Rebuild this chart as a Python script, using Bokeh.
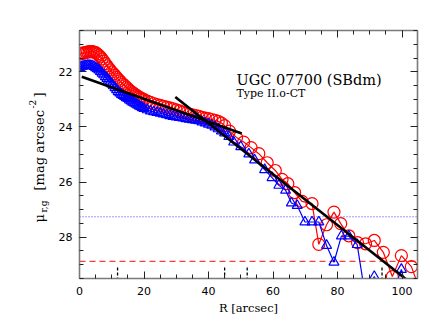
import math
from bokeh.plotting import figure
from bokeh.models import Range1d, LinearAxis, FixedTicker, Label
from bokeh.embed import file_html
from bokeh.resources import INLINE

# ---------------- data ----------------
red_r = [0, 0.5, 1, 1.5, 2, 2.5, 3, 3.5, 4, 4.5, 5, 5.5, 6, 6.5, 7, 7.5, 8, 8.5, 9, 9.5,
         10, 10.5, 11, 11.5, 12, 12.5, 13, 13.5, 14, 14.5, 15, 15.5, 16, 16.5, 17, 17.5, 18, 18.5, 19, 19.5,
         20, 21, 22, 23, 24, 25, 26, 27, 28, 29, 30, 31, 32, 33, 34, 35, 36, 37, 38, 39, 40, 41, 42, 43, 44, 45,
         46.5, 48.7, 50.9, 53.2, 55.6, 58.2, 60.7, 62.8, 64.6, 66.7, 69.0, 72.1, 74.2, 76.6, 78.9, 81.0,
         83.5, 86.2, 88.7, 91.4, 94.2, 97.0, 99.8, 102.9, 105.8]
red_mu = [21.35, 21.34, 21.32, 21.31, 21.29, 21.28, 21.27, 21.27, 21.27, 21.28, 21.30, 21.35, 21.40, 21.46,
          21.53, 21.61, 21.70, 21.78, 21.86, 21.93, 22.00, 22.07, 22.13, 22.20, 22.27, 22.33, 22.39, 22.45,
          22.50, 22.56, 22.61, 22.67, 22.72, 22.76, 22.80, 22.84, 22.88, 22.92, 22.95, 22.98,
          23.01, 23.06, 23.11, 23.15, 23.19, 23.22, 23.25, 23.28, 23.31, 23.34, 23.38, 23.42, 23.46, 23.50,
          23.53, 23.56, 23.59, 23.62, 23.65, 23.68, 23.70, 23.73, 23.76, 23.80, 23.86, 23.95,
          24.15, 24.38, 24.55, 24.75, 24.97, 25.30, 25.58, 25.90, 26.06, 26.38, 26.70, 26.78, 28.26, 27.55,
          27.09, 27.51, 27.95, 28.20, 28.24, 28.12, 28.55, 29.43, 28.67, 29.07, 30.00]

blue_r = [0, 0.5, 1, 1.5, 2, 2.5, 3, 3.5, 4, 4.5, 5, 5.5, 6, 6.5, 7, 7.5, 8, 8.5, 9, 9.5,
          10, 10.5, 11, 11.5, 12, 12.5, 13, 13.5, 14, 14.5, 15, 15.5, 16, 16.5, 17, 17.5, 18, 18.5, 19, 19.5,
          20, 21, 22, 23, 24, 25, 26, 27, 28, 29, 30, 31, 32, 33, 34, 35, 36, 37, 38, 39, 40, 41, 42, 43, 44, 45,
          46.3, 47.8, 50.0, 52.5, 54.3, 57.4, 59.7, 61.8, 63.9, 65.7, 67.5, 69.9, 72.1, 74.2, 76.6, 78.9,
          81.2, 83.5, 86.1, 88.7, 91.4, 94.2, 97.0, 99.8, 102.6]
blue_mu = [21.85, 21.82, 21.80, 21.78, 21.77, 21.76, 21.76, 21.77, 21.78, 21.81, 21.85, 21.89, 21.93, 21.99,
           22.05, 22.11, 22.18, 22.24, 22.30, 22.37, 22.44, 22.51, 22.58, 22.65, 22.72, 22.77, 22.82, 22.86,
           22.90, 22.94, 22.97, 23.02, 23.06, 23.10, 23.13, 23.17, 23.20, 23.24, 23.27, 23.30,
           23.33, 23.38, 23.42, 23.45, 23.48, 23.50, 23.53, 23.56, 23.59, 23.62, 23.64, 23.66, 23.68, 23.70,
           23.72, 23.74, 23.76, 23.78, 23.82, 23.86, 23.90, 23.94, 24.00, 24.07, 24.15, 24.22,
           24.35, 24.55, 24.72, 24.98, 25.20, 25.55, 25.84, 26.12, 26.30, 26.76, 26.85, 27.45, 27.45, 27.45,
           28.30, 28.91, 27.96, 27.96, 28.27, 30.20, 29.43, 30.30, 30.10, 29.17, 30.50]

# fitted disc segments (R start/end, mu start/end)
fit_inner_r = [0.7, 50.3]
fit_inner_mu = [22.18, 24.24]
fit_outer_r = [29.7, 104.0]
fit_outer_mu = [22.91, 29.78]

# break / boundary radii
break_r = [11.8, 45.0, 52.0, 93.8]

# surface-brightness limits
limit_blue = 27.26
limit_red = 28.88

x_ticks = [0, 20, 40, 60, 80, 100]
x_minor = [5 * i for i in range(22)]
y_ticks = [22, 24, 26, 28]
y_minor = [20.5 + 0.5 * i for i in range(19)]

title_text = "UGC 07700 (SBdm)"
type_text = "Type II.o-CT"

# ---------------- figure ----------------
SERIF = "DejaVu Serif"
SANS = "DejaVu Sans"
XMAX = 104.8

p = figure(width=422, height=325, output_backend="svg", toolbar_location=None,
           x_range=Range1d(0, XMAX), y_range=Range1d(29.5, 20.5),
           min_border_left=79, min_border_right=5, min_border_top=30, min_border_bottom=47,
           x_axis_label="R [arcsec]")
p.xgrid.visible = False
p.ygrid.visible = False
p.outline_line_color = None
p.background_fill_color = "white"
p.border_fill_color = "white"

# horizontal limit lines
p.line([0, XMAX], [limit_blue, limit_blue], line_color="#3a3aff", line_width=1, line_dash="1 2")
p.line([0, XMAX], [limit_red, limit_red], line_color="#ff3c3c", line_width=1.1, line_dash="6 4")

# vertical break marks
p.segment(x0=break_r, y0=[29.1] * len(break_r), x1=break_r, y1=[29.9] * len(break_r),
          line_color="black", line_width=1.3, line_dash="3 2")

# profiles
p.line(red_r, red_mu, line_color="red", line_width=1.2)
p.scatter(red_r, red_mu, marker="circle", size=12, fill_color=None, line_color="red", line_width=1.2)
p.line(blue_r, blue_mu, line_color="blue", line_width=1.2)
p.scatter(blue_r, blue_mu, marker="triangle", size=10, fill_color=None, line_color="blue", line_width=1.2)

# fits
p.line(fit_inner_r, fit_inner_mu, line_color="black", line_width=2.6)
p.line(fit_outer_r, fit_outer_mu, line_color="black", line_width=2.6)

# axes styling
def style_axis(ax, ticks, minor):
    ax.ticker = FixedTicker(ticks=ticks, minor_ticks=minor)
    ax.axis_line_color = "#7a7a7a"
    ax.axis_line_width = 1.6
    ax.major_tick_in = 7
    ax.major_tick_out = 0
    ax.minor_tick_in = 4
    ax.minor_tick_out = 0
    ax.major_tick_line_color = "#222222"
    ax.minor_tick_line_color = "#222222"
    ax.major_tick_line_width = 1
    ax.minor_tick_line_width = 1

style_axis(p.xaxis[0], x_ticks, x_minor)
style_axis(p.yaxis[0], y_ticks, y_minor)
p.xaxis.major_label_text_font = SANS
p.xaxis.major_label_text_font_size = "11px"
p.xaxis.major_label_text_color = "black"
p.xaxis.major_label_standoff = 8
p.xaxis.axis_label_text_font = SERIF
p.xaxis.axis_label_text_font_style = "normal"
p.xaxis.axis_label_text_font_size = "11.5px"
p.xaxis.axis_label_text_color = "black"
p.xaxis.axis_label_standoff = 3
p.yaxis.major_label_text_font = SANS
p.yaxis.major_label_text_font_size = "11px"
p.yaxis.major_label_text_color = "black"
p.yaxis.major_label_standoff = 7
p.yaxis.major_label_orientation = "horizontal"

top = LinearAxis()
style_axis(top, x_ticks, x_minor)
top.major_label_text_color = None
top.major_label_standoff = 0
p.add_layout(top, "above")
right = LinearAxis()
style_axis(right, y_ticks, y_minor)
right.major_label_text_color = None
right.major_label_standoff = 0
p.add_layout(right, "right")

# annotations (frame-relative screen units)
p.add_layout(Label(x=157, y=199, x_units="screen", y_units="screen", text=title_text,
                   text_font=SERIF, text_font_size="14.5px", text_color="black",
                   text_baseline="alphabetic", text_align="left"))
p.add_layout(Label(x=157, y=185, x_units="screen", y_units="screen", text=type_text,
                   text_font=SERIF, text_font_size="11px", text_color="black",
                   text_baseline="alphabetic", text_align="left"))

# rotated y-axis label, placed in the left border panel (x in data units -> absolute position)
ang = math.pi / 2
def ylab(text, xd, y, size):
    p.add_layout(Label(x=xd, y=y, x_units="data", y_units="screen", text=text, angle=ang,
                       text_font=SERIF, text_font_size=size, text_color="black",
                       text_baseline="middle", text_align="left"), "left")

NB = "\u00a0"
ylab("\u03bc", -12.4, 56, "13px")
ylab("r,g", -11.1, 66, "9px")
ylab("[mag arcsec" + NB * 3 + "]", -12.4, 88, "13px")
ylab("-2", -14.6, 170, "9px")

open("out.html", "w").write(file_html(p, INLINE))
